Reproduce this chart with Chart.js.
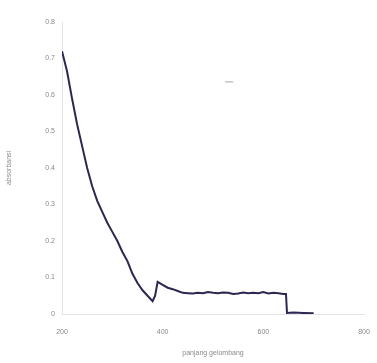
<!DOCTYPE html>
<html>
<head>
<meta charset="utf-8">
<script src="https://cdn.jsdelivr.net/npm/chart.js@4.4.1/dist/chart.umd.min.js"></script>
<style>
html,body{margin:0;padding:0;background:#fff;}
#wrap{width:377px;height:363px;}
</style>
</head>
<body>
<div id="wrap"><canvas id="c" width="377" height="363"></canvas></div>
<script>
const wavelength = [200,210,220,230,240,250,260,270,280,290,300,310,320,330,340,350,360,370,380,385,390,400,410,420,430,440,450,460,470,480,490,500,510,520,530,540,550,560,570,580,590,600,610,620,630,640,645,647,660,680,700];
const absorbance = [0.72,0.665,0.59,0.52,0.46,0.40,0.35,0.31,0.28,0.25,0.225,0.20,0.17,0.145,0.11,0.085,0.065,0.05,0.035,0.05,0.088,0.08,0.072,0.068,0.063,0.058,0.057,0.056,0.058,0.057,0.060,0.058,0.057,0.059,0.058,0.055,0.056,0.059,0.057,0.058,0.057,0.060,0.056,0.058,0.057,0.055,0.055,0.003,0.004,0.003,0.002];
const xTicks = [200,400,600,800];
const yTicks = [0,0.1,0.2,0.3,0.4,0.5,0.6,0.7,0.8];
const xTitle = 'panjang gelombang';
const yTitle = 'absorbansi';

const points = wavelength.map((w,i)=>({x:w,y:absorbance[i]}));
const txt = '#8a8a8a';
const fnt = {family:'Liberation Sans, Arial, sans-serif', size:7};

// small legend sample (empty series name) placed relative to the chart area
const legendMark = {
  id:'legendMark',
  afterDraw(chart){
    const a = chart.chartArea, ctx = chart.ctx;
    const x = a.left + (a.right-a.left)*0.54;
    const y = a.top + (a.bottom-a.top)*0.205;
    ctx.save();
    ctx.strokeStyle = '#c4c4c4';
    ctx.lineWidth = 1.5;
    ctx.beginPath(); ctx.moveTo(x, y); ctx.lineTo(x+8, y); ctx.stroke();
    ctx.restore();
  }
};

new Chart(document.getElementById('c'),{
  type:'line',
  data:{datasets:[{label:'',data:points,borderColor:'#2b2750',borderWidth:2,pointRadius:0,tension:0,fill:false}]},
  plugins:[legendMark],
  options:{
    responsive:false,animation:false,
    layout:{padding:{top:22,right:13,bottom:0,left:0}},
    plugins:{legend:{display:false},tooltip:{enabled:false}},
    scales:{
      x:{type:'linear',min:200,max:800,
        afterBuildTicks:s=>{s.ticks=xTicks.map(v=>({value:v}));},
        afterFit:s=>{s.height=49;s.paddingLeft=0;s.paddingRight=0;},
        grid:{display:false,drawTicks:false},
        border:{display:true,color:'#e4e4e4',width:1},
        ticks:{color:txt,font:fnt,padding:14,maxRotation:0},
        title:{display:true,text:xTitle,color:txt,font:fnt,padding:{top:0,bottom:6}}
      },
      y:{type:'linear',min:0,max:0.8,
        afterBuildTicks:s=>{s.ticks=yTicks.map(v=>({value:v}));},
        afterFit:s=>{s.width=62;s.paddingTop=0;s.paddingBottom=0;},
        grid:{display:false,drawTicks:false},
        border:{display:true,color:'#e4e4e4',width:1},
        ticks:{color:txt,font:fnt,padding:7},
        title:{display:true,text:yTitle,color:txt,font:fnt,padding:{top:5,bottom:0}}
      }
    }
  }
});
</script>
</body>
</html>
